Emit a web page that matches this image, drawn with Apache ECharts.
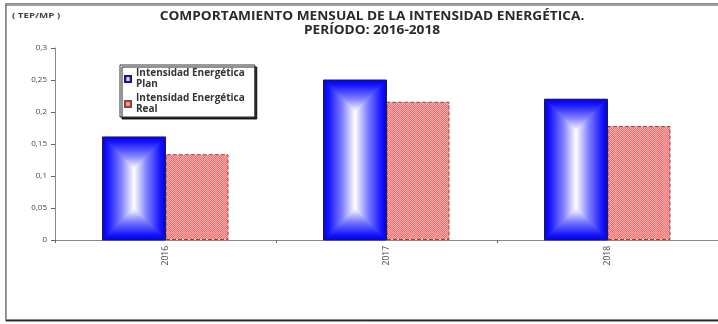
<!DOCTYPE html>
<html>
<head>
<meta charset="utf-8">
<script src="https://cdn.jsdelivr.net/npm/echarts@6/dist/echarts.min.js"></script>
<style>html,body{margin:0;padding:0;background:#fff}#c{width:718px;height:324px}</style>
</head>
<body>
<div id="c"></div>
<script>
const years = ['2016', '2017', '2018'];
const planValues = [0.161, 0.250, 0.220];
const realValues = [0.134, 0.216, 0.178];
const yTicks = { min: 0, max: 0.3, interval: 0.05 };
const seriesNames = ['Intensidad Energética\nPlan', 'Intensidad Energética\nReal'];
const titleLines = ['COMPORTAMIENTO MENSUAL DE LA INTENSIDAD ENERGÉTICA.', 'PERÍODO: 2016-2018'];
const unitLabel = '( TEP/MP )';

const FONT = '"Open Sans", "Liberation Sans", sans-serif';
const BAR_W = 63;

function hGrad() {
  return new echarts.graphic.LinearGradient(0, 0, 1, 0, [
    { offset: 0, color: '#0000f0' },
    { offset: 0.08, color: '#1414ff' },
    { offset: 0.3, color: '#8080ff' },
    { offset: 0.5, color: '#ffffff' },
    { offset: 0.7, color: '#8080ff' },
    { offset: 0.92, color: '#1414ff' },
    { offset: 1, color: '#0000f0' }
  ]);
}
function vGrad(fromBottom) {
  const stops = [
    { offset: 0, color: '#0000f0' },
    { offset: 0.16, color: '#1414ff' },
    { offset: 0.6, color: '#8080ff' },
    { offset: 1, color: '#ffffff' }
  ];
  return fromBottom ? new echarts.graphic.LinearGradient(0, 1, 0, 0, stops)
                    : new echarts.graphic.LinearGradient(0, 0, 0, 1, stops);
}

// red checker pattern
const pc = document.createElement('canvas');
pc.width = 2; pc.height = 2;
const pctx = pc.getContext('2d');
pctx.fillStyle = '#ff6e6e'; pctx.fillRect(0, 0, 2, 2);
pctx.fillStyle = '#ffaaaa'; pctx.fillRect(0, 0, 1, 1); pctx.fillRect(1, 1, 1, 1);

const chart = echarts.init(document.getElementById('c'), null, { renderer: 'canvas' });
chart.setOption({
  animation: false,
  textStyle: { fontFamily: FONT },
  grid: { left: 55, top: 48, width: 669, height: 192, containLabel: false },
  graphic: [
    { type: 'rect', z: -10, shape: { x: 5.5, y: 3.5, width: 720, height: 316 },
      style: { fill: '#fff', stroke: '#8a8a8a', lineWidth: 1, shadowColor: 'rgba(0,0,0,0.75)', shadowOffsetY: 1.5, shadowOffsetX: 0.5, shadowBlur: 0 } },
    { type: 'text', x: 372, y: 11, scaleX: 1.19, style: { text: titleLines[0], fontFamily: FONT, fontSize: 11.5, fontWeight: 'bold', fill: '#2a2a2a', align: 'center' } },
    { type: 'text', x: 372, y: 25, scaleX: 1.19, style: { text: titleLines[1], fontFamily: FONT, fontSize: 11.5, fontWeight: 'bold', fill: '#2a2a2a', align: 'center' } },
    { type: 'text', x: 12, y: 12, scaleX: 1.3, style: { text: unitLabel, fontFamily: FONT, fontSize: 7.5, fontWeight: 'bold', fill: '#444' } }
  ],
  legend: {
    orient: 'vertical', left: 120, top: 65,
    data: seriesNames,
    backgroundColor: '#fff', borderColor: '#333', borderWidth: 1,
    shadowColor: 'rgba(0,0,0,0.85)', shadowOffsetX: 2, shadowOffsetY: 2, shadowBlur: 0,
    padding: [3, 10, 2, 4], itemGap: 3, itemWidth: 6, itemHeight: 6,
    icon: 'rect',
    textStyle: { fontFamily: FONT, fontSize: 10, fontWeight: 'bold', color: '#333', lineHeight: 11 }
  },
  xAxis: {
    type: 'category', data: years,
    axisLine: { lineStyle: { color: '#888', width: 1 } },
    axisTick: { show: true, length: 3, lineStyle: { color: '#666' } },
    axisLabel: { rotate: 90, fontSize: 8.5, color: '#444', margin: 6, fontFamily: FONT }
  },
  yAxis: {
    type: 'value', min: yTicks.min, max: yTicks.max, interval: yTicks.interval,
    axisLine: { show: true, lineStyle: { color: '#888' } },
    axisTick: { show: true, length: 4, lineStyle: { color: '#666' } },
    splitLine: { show: false },
    axisLabel: { fontSize: 8, color: '#444', margin: 8, fontFamily: FONT,
      formatter: v => String(+v.toFixed(2)).replace('.', ',') }
  },
  series: [
    { name: seriesNames[0], type: 'bar', data: planValues, barWidth: BAR_W, barGap: '0%',
      itemStyle: { color: hGrad(), borderColor: '#1a1a66', borderWidth: 1 } },
    { name: seriesNames[1], type: 'bar', data: realValues, barWidth: BAR_W, barGap: '0%',
      itemStyle: { color: { image: pc, repeat: 'repeat' }, borderColor: '#7a4a4a', borderWidth: 1, borderType: 'dashed' } },
    { type: 'custom', silent: true, z: 3, data: planValues.map((v, i) => [i, v]),
      renderItem: (params, api) => {
        const c = api.coord([api.value(0), api.value(1)]);
        const b = api.coord([api.value(0), 0]);
        const x1 = c[0], x0 = c[0] - BAR_W, xm = c[0] - BAR_W / 2;
        const top = c[1], bot = b[1];
        const h = Math.min(BAR_W / 2, (bot - top) / 2);
        return { type: 'group', children: [
          { type: 'polygon', shape: { points: [[x0, top], [x1, top], [xm, top + h]] }, style: { fill: vGrad(false) } },
          { type: 'polygon', shape: { points: [[x0, bot], [x1, bot], [xm, bot - h]] }, style: { fill: vGrad(true) } },
          { type: 'rect', shape: { x: x0, y: top, width: BAR_W, height: bot - top }, style: { fill: null, stroke: '#1a1a66', lineWidth: 1 } }
        ] };
      }
    }
  ]
});
</script>
</body>
</html>
